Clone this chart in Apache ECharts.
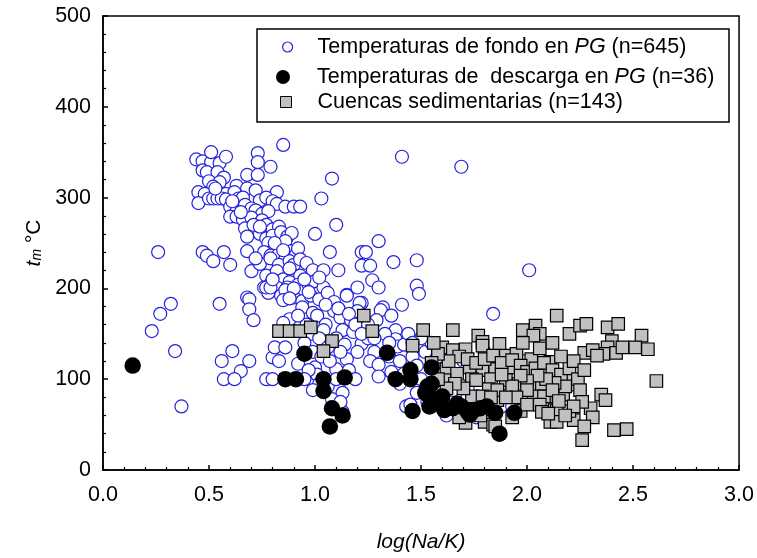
<!DOCTYPE html>
<html><head><meta charset="utf-8">
<script src="https://cdn.jsdelivr.net/npm/echarts@6/dist/echarts.min.js"></script>
<style>html,body{margin:0;padding:0;background:#fff}#c{width:757px;height:558px}</style>
</head><body><div id="c"></div>
<script>
// Axis ticks
const xTickLabels = ['0.0','0.5','1.0','1.5','2.0','2.5','3.0'];
const yTickLabels = ['0','100','200','300','400','500'];

// Series names
const nameFondo = 'Temperaturas de fondo en PG (n=645)';
const nameDescarga = 'Temperaturas de  descarga en PG (n=36)';
const nameCuencas = 'Cuencas sedimentarias (n=143)';

// Temperaturas de fondo en PG : [log(Na/K), tm]
const fondo = [
[0.44,342],[0.47,340],[0.51,339],[0.51,350],[0.55,338],[0.58,345],[0.73,349],[0.85,358],[0.73,339],[0.79,334],
[0.47,330],[0.49,328],[0.54,328],[0.57,322],[0.68,325],[0.73,325],[0.50,318],[0.55,317],[0.52,312],[0.63,313],
[0.68,310],[0.72,308],[0.45,306],[0.48,304],[0.58,304],[0.62,306],[0.82,306],[0.45,294],[0.50,299],[0.52,299],
[0.54,299],[0.56,299],[0.58,298],[0.64,299],[0.66,300],[0.74,297],[0.77,300],[0.80,296],[0.82,293],[0.86,290],
[0.90,290],[0.93,290],[0.60,290],[0.63,285],[0.67,292],[0.70,288],[0.72,286],[0.75,282],[0.78,285],
[0.60,279],[0.63,279],[0.66,276],[0.70,278],[0.75,275],[0.77,270],[0.80,265],[0.83,268],[0.67,266],[0.72,263],
[0.68,257],[0.74,260],[0.77,255],[0.80,258],[0.84,262],[0.87,257],[0.89,261],[0.78,250],[0.81,244],[0.84,248],
[0.86,252],[0.89,241],[0.91,237],[0.92,244],[0.76,240],[0.79,236],[0.83,238],[0.86,232],[0.47,240],[0.49,236],
[0.57,240],[0.52,230],[0.60,226],[0.68,241],[0.70,219],[0.74,227],[0.72,233],[0.79,233],[0.83,226],[0.88,230],
[0.90,226],[0.93,232],[0.96,228],[0.99,220],[1.04,220],[1.11,220],[0.77,214],[0.82,219],[0.85,210],[0.90,214],
[0.93,214],[0.88,207],[0.76,201],[0.79,205],[0.82,201],[0.87,201],[0.92,204],[0.95,198],[0.97,204],[1.00,208],
[1.04,201],[1.02,212],[0.68,190],[1.15,193],[0.78,195],[0.84,192],[0.90,190],[0.94,186],[0.98,192],[1.02,188],
[1.06,195],[1.09,185],
[1.00,260],[1.08,321],[1.03,299],[1.10,270],[1.30,252],[1.22,240],[1.24,240],[1.07,240],[1.37,229],[1.48,231],
[1.22,225],[1.26,225],[1.27,209],[1.30,201],[1.20,201],[1.48,203],[1.49,194],[1.15,192],[1.41,345],[1.69,334],
[2.01,220],[1.84,172],[1.41,182],[1.32,179],[1.22,184],[1.21,184],[1.31,176],[1.29,165],[1.36,170],[1.38,154],
[1.38,144],[1.39,136],
[0.26,240],[0.32,183],[0.27,172],[0.23,153],[0.34,131],[0.37,70],[0.55,183],[0.56,120],[0.61,131],[0.69,120],
[0.65,109],[0.57,100],[0.62,100],[0.69,188],[0.69,177],[0.71,165],
[0.77,100],[0.80,100],[0.80,124],[0.83,120],[0.81,135],[0.86,135],[0.88,166],[0.85,162],[0.77,201],[0.79,201],
[0.86,198],[0.90,200],[0.85,187],[0.88,189],
[0.94,179],[0.99,173],[1.01,170],[1.05,160],[1.04,154],[1.09,175],[1.12,168],[1.13,154],[1.18,152],[1.22,139],
[1.20,130],[1.15,122],[1.10,111],[0.92,117],[1.00,113],[1.01,105],[0.96,160],[0.92,170],[0.98,150],[1.02,145],
[1.06,135],[1.10,145],[1.14,138],[1.17,165],[1.20,175],[1.25,160],[1.25,145],[1.28,130],[1.26,120],[0.95,140],
[0.99,130],[1.03,125],[1.07,120],[1.12,130],[1.16,110],[1.19,100],[0.97,110],[1.02,95],[1.06,92],[1.10,100],
[0.95,100],[0.99,88],[1.13,85],[1.08,78],[1.13,64],[1.12,75],
[1.30,116],[1.30,103],[1.36,108],[1.33,150],[1.35,125],[1.40,120],[1.42,138],[1.44,150],[1.46,125],[1.48,115],
[1.43,70],[1.45,72],[1.48,85],[1.50,100],[1.52,130],[1.55,140],[1.58,120],[1.60,105],[1.62,117],[1.65,88],
[1.65,66],[1.68,95],[1.70,120],[1.72,80],[1.75,105],[1.78,90],[1.80,130],[1.82,115],[1.85,95],[1.88,70],
[1.90,110],[1.92,85],[1.95,100],[1.98,120],[1.53,75],[1.57,92],[1.62,60],[1.70,60],[1.76,58],[1.84,65],
[1.93,70],[1.58,125],[1.40,95],[1.42,106],[1.35,140],[1.28,145],[2.00,110],[2.05,95],
[0.53,310],[0.61,296],[0.65,284],[0.71,270],[0.74,268],[0.81,250],[0.85,242],[0.88,222],[0.95,210],[0.80,210],
[0.97,196],[1.05,182],[1.11,178],[1.16,172],[1.19,160],[1.22,150],[1.50,145],[1.46,140]
];

// Temperaturas de descarga en PG
const descarga = [
[0.14,115],[0.86,100],[0.91,100],[0.95,128],[1.04,100],[1.04,87],[1.08,68],[1.07,48],[1.13,60],[1.14,102],
[1.34,129],[1.38,100],[1.45,110],[1.45,100],[1.46,65],[1.55,113],[1.53,92],[1.54,81],[1.60,81],[1.54,70],
[1.61,66],[1.67,73],[1.72,64],[1.78,68],[1.85,63],[1.94,63],[1.87,40],[1.73,61],[1.81,70],[1.56,78],
[1.65,68],[1.75,66],[1.52,85],[1.69,70],[1.58,73],[1.55,95]
];

// Cuencas sedimentarias
const cuencas = [
[0.83,153],[0.88,153],[0.93,153],[0.98,157],[1.08,142],[1.04,131],[1.23,170],[1.27,153],[1.46,137],[1.51,154],
[1.65,154],[1.77,148],[1.98,154],[2.04,159],[2.06,150],[2.03,148],[2.14,170],[2.20,150],[2.25,159],[2.28,161],
[2.38,157],[2.43,161],[2.40,142],[2.38,135],[2.42,129],[2.36,128],[2.54,148],[2.51,135],[2.57,133],[2.61,98],
[2.27,129],[2.31,132],[2.33,126],[1.60,135],[1.65,132],[1.71,133],[1.79,141],[1.79,137],[1.87,139],[1.90,126],
[1.95,128],[2.02,122],[2.11,119],[1.62,111],[1.67,106],[1.61,99],[1.73,113],[1.79,110],[1.85,111],[1.92,113],
[1.74,100],[1.76,99],[1.83,100],[1.90,99],[1.96,95],[2.03,94],[2.10,106],[2.07,94],[1.82,89],[1.86,77],
[1.74,81],[1.79,81],[1.71,52],[1.80,53],[1.84,50],[2.03,81],[2.09,81],[2.13,66],[2.11,53],[2.35,83],
[2.37,77],[2.30,68],[2.31,58],[2.22,55],[2.27,48],[2.26,33],[2.41,44],[2.47,45],[2.20,65],[2.14,65],
[2.14,53],[2.17,83],[2.08,81],[2.06,72],[2.07,64],[2.23,94],[2.19,103],[1.85,48],
[1.68,125],[1.72,122],[1.76,118],[1.80,122],[1.84,126],[1.88,118],[1.93,121],[1.97,115],[2.00,108],[2.04,112],
[2.08,118],[2.12,110],[2.16,105],[2.20,112],[2.24,100],[2.18,92],[2.13,96],[2.09,100],[2.05,104],[2.00,98],
[1.97,104],[1.93,92],[1.88,105],[1.86,88],[1.70,90],[1.66,95],[1.63,120],[1.58,128],[1.56,140],[1.55,118],
[2.16,125],[2.22,120],[2.27,110],[2.25,88],[2.12,88],[2.00,88],[1.95,80],[1.90,80],[2.15,76],[2.26,75],
[2.22,70],[2.18,60],[2.10,62],[1.78,60],[1.72,65],[1.68,58],[1.93,58],[1.97,65],[2.00,72],[1.83,80],
[1.62,90],[1.58,100],[1.98,140],[2.06,134],[2.12,140],[2.45,135]
];

const FONT = '"Liberation Sans", Arial, sans-serif';
const BLUE = '#2323dc';

function legendLabel(name){
  const m = name.match(/^(.*)(PG)(.*)$/);
  if (m) return '{sp|}{n|' + m[1] + '}{i|' + m[2] + '}{n|' + m[3] + '}';
  return '{sp|}{n|' + name + '}';
}
function legendRich(sp){
  return {
    sp:{width:sp},
    n:{fontSize:21.5, fontFamily:FONT, color:'#000'},
    i:{fontSize:21.5, fontFamily:FONT, fontStyle:'italic', color:'#000'}
  };
}

const chart = echarts.init(document.getElementById('c'), null, {renderer:'canvas'});
chart.setOption({
  animation:false,
  backgroundColor:'#fff',
  grid:{left:103, right:17, top:16, bottom:84, show:true, borderColor:'#000', borderWidth:1.5, backgroundColor:'transparent'},
  graphic:[{type:'rect', z:5, shape:{x:257, y:29, width:472, height:93}, style:{fill:'#fff', stroke:'#000', lineWidth:1.5}}],
  legend:[
    {z:10, left:282, top:36, padding:0, selectedMode:false, itemWidth:10, itemHeight:10,
     data:[{name:nameFondo, icon:'circle', itemStyle:{color:'#fff', borderColor:BLUE, borderWidth:1.2}}],
     formatter:legendLabel, textStyle:{rich:legendRich(20)}},
    {z:10, left:276, top:66, padding:0, selectedMode:false, itemWidth:14, itemHeight:14,
     data:[{name:nameDescarga, icon:'circle', itemStyle:{color:'#000', borderWidth:0, opacity:1}}],
     formatter:legendLabel, textStyle:{rich:legendRich(22)}},
    {z:10, left:280, top:91, padding:0, selectedMode:false, itemWidth:11, itemHeight:11,
     data:[{name:nameCuencas, icon:'rect', itemStyle:{color:'#c0c0c0', borderColor:'#000', borderWidth:1, opacity:1}}],
     formatter:legendLabel, textStyle:{rich:legendRich(21)}}
  ],
  xAxis:{
    type:'value', min:0, max:3, interval:0.5,
    name:'log(Na/K)', nameLocation:'middle', nameGap:62,
    nameTextStyle:{fontFamily:FONT, fontSize:21, fontStyle:'italic', color:'#000'},
    axisLine:{lineStyle:{color:'#000', width:1.5}},
    axisTick:{inside:true, length:5, lineStyle:{color:'#000', width:1.5}},
    minorTick:{show:true, splitNumber:5, length:3, lineStyle:{color:'#000', width:1.2}},
    splitLine:{show:false},
    axisLabel:{margin:14, fontFamily:FONT, fontSize:21.5, color:'#000',
      formatter:(v)=>{const i=Math.round(v/0.5); return xTickLabels[i] ?? '';}}
  },
  yAxis:{
    type:'value', min:0, max:500, interval:100,
    name:'{t|t}{m|m}{c| °C}', nameLocation:'middle', nameGap:58, nameRotate:90,
    nameTextStyle:{rich:{
      t:{fontFamily:FONT, fontSize:21, fontStyle:'italic', color:'#000', verticalAlign:'bottom', lineHeight:24},
      m:{fontFamily:FONT, fontSize:14, fontStyle:'italic', color:'#000', verticalAlign:'bottom', lineHeight:12},
      c:{fontFamily:FONT, fontSize:21, color:'#000', verticalAlign:'bottom', lineHeight:24}
    }},
    axisLine:{lineStyle:{color:'#000', width:1.5}},
    axisTick:{inside:true, length:5, lineStyle:{color:'#000', width:1.5}},
    minorTick:{show:true, splitNumber:5, length:3, lineStyle:{color:'#000', width:1.2}},
    splitLine:{show:false},
    axisLabel:{margin:12, fontFamily:FONT, fontSize:21.5, color:'#000',
      formatter:(v)=>{const i=Math.round(v/100); return yTickLabels[i] ?? '';}}
  },
  series:[
    {name:nameFondo, type:'scatter', data:fondo, symbol:'circle', symbolSize:13, z:2,
     itemStyle:{color:'#fff', borderColor:BLUE, borderWidth:1.2, opacity:1}},
    {name:nameCuencas, type:'scatter', data:cuencas, symbol:'rect', symbolSize:12.5, z:3,
     itemStyle:{color:'#c0c0c0', borderColor:'#000', borderWidth:1.2, opacity:1}},
    {name:nameDescarga, type:'scatter', data:descarga, symbol:'circle', symbolSize:16.5, z:4,
     itemStyle:{color:'#000', borderWidth:0, opacity:1}}
  ]
});
</script>
</body></html>
